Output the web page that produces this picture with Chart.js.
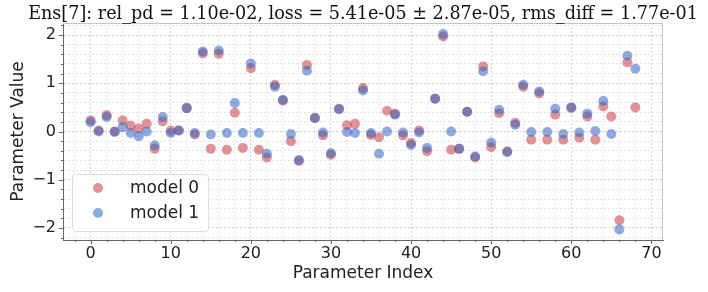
<!DOCTYPE html>
<html>
<head>
<meta charset="utf-8">
<script src="https://cdn.jsdelivr.net/npm/chart.js@4"></script>
<style>
  html, body { margin: 0; padding: 0; background: #fff; }
  #wrap { width: 708px; height: 292px; }
</style>
</head>
<body>
<div id="wrap"><canvas id="myChart" width="708" height="292"></canvas></div>
<script>
const titleText = 'Ens[7]: rel_pd = 1.10e-02, loss = 5.41e-05 \u00b1 2.87e-05, rms_diff = 1.77e-01';

const model0 = [
  0.23, 0.02, 0.34, 0.00, 0.23, 0.12, 0.06, 0.16, -0.36, 0.21,
  0.02, 0.02, 0.49, -0.06, 1.62, -0.36, 1.61, -0.38, 0.39, -0.34,
  1.31, -0.38, -0.54, 0.97, 0.64, -0.20, -0.61, 1.38, 0.28, -0.08,
  -0.48, 0.47, 0.13, 0.16, 0.90, -0.07, -0.12, 0.43, 0.37, -0.08,
  -0.24, 0.02, -0.41, 0.68, 1.97, -0.38, -0.36, 0.41, -0.54, 1.35,
  -0.32, 0.38, -0.41, 0.18, 0.93, -0.17, 0.79, -0.17, 0.35, -0.17,
  0.49, -0.13, 0.31, -0.17, 0.52, 0.31, -1.84, 1.43, 0.50
];

const model1 = [
  0.19, 0.00, 0.30, -0.01, 0.09, -0.03, -0.10, 0.00, -0.29, 0.30,
  -0.03, 0.02, 0.48, -0.03, 1.66, -0.06, 1.68, -0.03, 0.59, -0.03,
  1.41, -0.03, -0.46, 0.93, 0.66, -0.05, -0.59, 1.26, 0.28, -0.02,
  -0.45, 0.46, -0.01, -0.03, 0.85, -0.03, -0.46, 0.00, 0.35, -0.02,
  -0.28, -0.02, -0.34, 0.68, 2.02, 0.00, -0.36, 0.41, -0.52, 1.25,
  -0.23, 0.45, -0.43, 0.14, 0.97, -0.01, 0.83, -0.01, 0.47, -0.05,
  0.50, -0.02, 0.37, 0.01, 0.63, -0.05, -2.03, 1.57, 1.30
];

const xMajorTicks = [0, 10, 20, 30, 40, 50, 60, 70];
const yMajorTicks = [-2, -1, 0, 1, 2];
const xMinorStep = 2;
const yMinorStep = 0.2;

const toPoints = (arr) => arr.map((v, i) => ({ x: i, y: v }));

const isMajor = (v, list) => list.some((t) => Math.abs(t - v) < 1e-6);

const minorTicks = (min, max, step) => {
  const out = [];
  const start = Math.ceil(min / step - 1e-6);
  const end = Math.floor(max / step + 1e-6);
  for (let k = start; k <= end; k++) out.push(Math.round(k * step * 1000) / 1000);
  return out;
};

// titulo, bordas, marcas dos eixos e legenda
const extras = {
  id: 'extras',
  beforeDatasetsDraw(chart) {
    const ctx = chart.ctx;
    const a = chart.chartArea;
    ctx.save();
    ctx.strokeStyle = '#c4c4c4';
    ctx.lineWidth = 1;
    ctx.beginPath();
    ctx.moveTo(a.left, a.top + 0.5);
    ctx.lineTo(a.right - 0.5, a.top + 0.5);
    ctx.lineTo(a.right - 0.5, a.bottom);
    ctx.stroke();
    ctx.restore();
  },
  afterDraw(chart) {
    const ctx = chart.ctx;
    const a = chart.chartArea;
    const xs = chart.scales.x;
    const ys = chart.scales.y;
    ctx.save();

    ctx.strokeStyle = '#666';
    ctx.lineWidth = 1;
    xs.ticks.forEach((t) => {
      const px = Math.round(xs.getPixelForValue(t.value)) + 0.5;
      const len = isMajor(t.value, xMajorTicks) ? 4 : 2;
      ctx.beginPath();
      ctx.moveTo(px, a.bottom);
      ctx.lineTo(px, a.bottom + len);
      ctx.stroke();
    });
    ys.ticks.forEach((t) => {
      const py = Math.round(ys.getPixelForValue(t.value)) + 0.5;
      const len = isMajor(t.value, yMajorTicks) ? 4 : 2;
      ctx.beginPath();
      ctx.moveTo(a.left, py);
      ctx.lineTo(a.left - len, py);
      ctx.stroke();
    });

    ctx.fillStyle = '#111';
    ctx.font = '17.6px "DejaVu Serif"';
    ctx.textAlign = 'center';
    ctx.textBaseline = 'alphabetic';
    ctx.fillText(titleText, (a.left + a.right) / 2, 19);

    const lx = a.left + 9, ly = a.bottom - 66, lw = 136, lh = 57;
    ctx.fillStyle = 'rgba(255,255,255,0.8)';
    ctx.strokeStyle = '#dcdcdc';
    ctx.beginPath();
    ctx.roundRect(lx + 0.5, ly + 0.5, lw, lh, 3);
    ctx.fill();
    ctx.stroke();
    chart.data.datasets.forEach((ds, i) => {
      const cy = ly + 14 + i * 25;
      ctx.fillStyle = ds.backgroundColor;
      ctx.beginPath();
      ctx.arc(lx + 26, cy, 5, 0, Math.PI * 2);
      ctx.fill();
      ctx.fillStyle = '#222';
      ctx.font = '17px "DejaVu Sans"';
      ctx.textAlign = 'left';
      ctx.textBaseline = 'middle';
      ctx.fillText(ds.label, lx + 58, cy + 1);
    });
    ctx.restore();
  }
};

const config = {
  type: 'scatter',
  data: {
    datasets: [{
      label: 'model 0',
      data: toPoints(model0),
      backgroundColor: 'rgba(200,60,65,0.55)',
      borderWidth: 0,
      pointRadius: 5,
      pointHoverRadius: 5,
      order: 1
    }, {
      label: 'model 1',
      data: toPoints(model1),
      backgroundColor: 'rgba(50,100,195,0.55)',
      borderWidth: 0,
      pointRadius: 5,
      pointHoverRadius: 5,
      order: 0
    }]
  },
  options: {
    responsive: false,
    animation: false,
    layout: { padding: { top: 23, right: 45, left: 0, bottom: 0 } },
    plugins: {
      legend: { display: false },
      title: { display: false },
      tooltip: { enabled: false }
    },
    scales: {
      x: {
        type: 'linear',
        min: -3.45,
        max: 71.45,
        afterBuildTicks: (s) => { s.ticks = minorTicks(s.min, s.max, xMinorStep).map((v) => ({ value: v })); },
        afterFit: (s) => { s.height = 52; },
        ticks: {
          autoSkip: false,
          maxRotation: 0,
          padding: 4,
          color: '#222',
          font: { family: 'DejaVu Sans', size: 16 },
          callback: (v) => isMajor(v, xMajorTicks) ? String(v) : ''
        },
        grid: {
          drawTicks: false,
          color: (c) => c.tick && isMajor(c.tick.value, xMajorTicks) ? '#cfcfcf' : '#e2e2e2',
          lineWidth: 1
        },
        border: { color: '#666', width: 1, dash: [2, 2] },
        title: {
          display: true,
          text: 'Parameter Index',
          color: '#222',
          font: { family: 'DejaVu Sans', size: 17 },
          padding: { top: 0, bottom: 8 }
        }
      },
      y: {
        type: 'linear',
        min: -2.25,
        max: 2.25,
        afterBuildTicks: (s) => { s.ticks = minorTicks(s.min, s.max, yMinorStep).map((v) => ({ value: v })); },
        afterFit: (s) => { s.width = 63; },
        ticks: {
          autoSkip: false,
          padding: 7,
          color: '#222',
          font: { family: 'DejaVu Sans', size: 16 },
          callback: (v) => isMajor(v, yMajorTicks) ? String(v).replace('-', '\u2212') : ''
        },
        grid: {
          drawTicks: false,
          color: (c) => c.tick && isMajor(c.tick.value, yMajorTicks) ? '#cfcfcf' : '#e2e2e2',
          lineWidth: 1
        },
        border: { color: '#666', width: 1, dash: [2, 2] },
        title: {
          display: true,
          text: 'Parameter Value',
          color: '#222',
          font: { family: 'DejaVu Sans', size: 17 },
          padding: { top: 8, bottom: 0 }
        }
      }
    }
  },
  plugins: [extras]
};

window.onload = () => {
  new Chart(document.getElementById('myChart'), config);
};
</script>
</body>
</html>
